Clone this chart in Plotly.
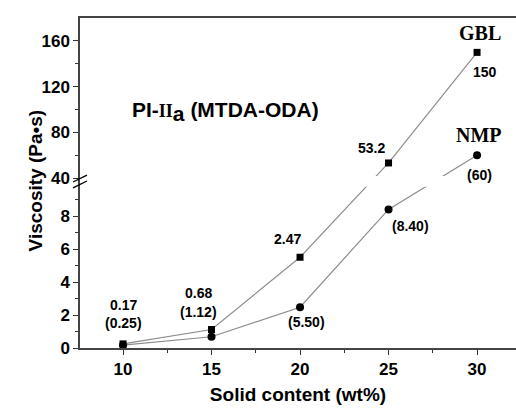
import plotly.graph_objects as go

# ---- data ----
solid = [10, 15, 20, 25, 30]
gbl = [0.25, 1.12, 5.50, 53.2, 150]
nmp = [0.17, 0.68, 2.47, 8.40, 60]
gbl_labels = ["0.17", "0.68", "2.47", "53.2", "150"]
nmp_labels = ["(0.25)", "(1.12)", "(5.50)", "(8.40)", "(60)"]
y_major = [0, 2, 4, 6, 8, 40, 80, 120, 160]
y_minor = [1, 3, 5, 7, 9, 60, 100, 140]
x_major = [10, 15, 20, 25, 30]

# ---- broken-axis scale ----
LOW_MAX = 10.0
HIGH_START = 40.0
HIGH_OFFSET = 10.30
HIGH_K = 0.06924


def brk(v):
    return v if v <= LOW_MAX else HIGH_OFFSET + (v - HIGH_START) * HIGH_K


gbl_t = [brk(v) for v in gbl]
nmp_t = [brk(v) for v in nmp]

FONT = "Arial, Liberation Sans, sans-serif"
SERIF = "Times New Roman, Liberation Serif, serif"

fig = go.Figure()
fig.add_trace(go.Scatter(x=solid, y=gbl_t, mode="lines+markers", name="GBL",
                         line=dict(color="#8c8c8c", width=1.2),
                         marker=dict(symbol="square", size=7, color="black"),
                         cliponaxis=False))
fig.add_trace(go.Scatter(x=solid, y=nmp_t, mode="lines+markers", name="NMP",
                         line=dict(color="#8c8c8c", width=1.2),
                         marker=dict(symbol="circle", size=8, color="black"),
                         cliponaxis=False))

ann = []
gbl_shift = [(0, 39), (-13, 37), (-13, 18), (-17, 15), (8, -20)]
nmp_shift = [(0, 22), (-13, 25), (6, -15), (22, -17), (2, -20)]
for x, y, lab, (dx, dy) in zip(solid, gbl_t, gbl_labels, gbl_shift):
    ann.append(dict(x=x, y=y, text=f"<b>{lab}</b>", showarrow=False, xshift=dx, yshift=dy,
                    font=dict(family=FONT, size=14, color="black")))
for x, y, lab, (dx, dy) in zip(solid, nmp_t, nmp_labels, nmp_shift):
    ann.append(dict(x=x, y=y, text=f"<b>{lab}</b>", showarrow=False, xshift=dx, yshift=dy,
                    font=dict(family=FONT, size=14, color="black")))
ann.append(dict(x=solid[-1], y=gbl_t[-1], text="<b>GBL</b>", showarrow=False, xshift=3, yshift=19,
                font=dict(family=SERIF, size=20, color="black")))
ann.append(dict(x=solid[-1], y=nmp_t[-1], text="<b>NMP</b>", showarrow=False, xshift=2, yshift=20,
                font=dict(family=SERIF, size=20, color="black")))
ann.append(dict(x=0.334, y=0.765, xref="paper", yref="paper",
                text="<b>PI-<span style='font-family:Times New Roman, Liberation Serif, serif;font-size:18px'>II</span>"
                     "<sub><span style='font-size:21px'>a</span></sub> (MTDA-ODA)</b>",
                showarrow=False, font=dict(family=FONT, size=21, color="black")))
ann.append(dict(x=-0.131, y=0.506, xref="paper", yref="paper", textangle=-90,
                text="<b>Viscosity (Pa•s)</b>", showarrow=False,
                font=dict(family=FONT, size=19, color="black")))

shapes = [
    # white band cutting lines at the break
    dict(type="rect", xref="paper", yref="y", x0=0.004, x1=1.0, y0=9.78, y1=10.42,
         fillcolor="white", line=dict(width=0), layer="above"),
    # break marks
    dict(type="line", xref="paper", yref="y", x0=-0.016, x1=0.016, y0=10.06, y1=10.48,
         line=dict(color="black", width=1.3), layer="above"),
    dict(type="line", xref="paper", yref="y", x0=-0.016, x1=0.016, y0=9.70, y1=10.12,
         line=dict(color="black", width=1.3), layer="above"),
]

fig.update_layout(
    width=516, height=408,
    margin=dict(l=80, r=0, t=18, b=60),
    paper_bgcolor="white", plot_bgcolor="white",
    showlegend=False,
    annotations=ann,
    shapes=shapes,
    font=dict(family=FONT, color="black"),
    xaxis=dict(range=[7.57, 32.2], tickmode="array", tickvals=x_major,
               ticktext=[f"<b>{v}</b>" for v in x_major],
               ticks="outside", ticklen=5, tickwidth=1.2, tickcolor="#333",
               showline=True, linecolor="#444", linewidth=1.5, mirror=True,
               showgrid=False, zeroline=False,
               tickfont=dict(family=FONT, size=17, color="black"),
               minor=dict(tickmode="array", tickvals=[12.5, 17.5, 22.5, 27.5],
                          ticks="outside", ticklen=3, tickcolor="#333", showgrid=False),
               title=dict(text="<b>Solid content (wt%)</b>", standoff=10,
                          font=dict(family=FONT, size=19, color="black"))),
    yaxis=dict(range=[0, 20.0], tickmode="array", tickvals=[brk(v) for v in y_major],
               ticktext=[f"<b>{v}</b>" for v in y_major],
               ticks="outside", ticklen=5, tickwidth=1.2, tickcolor="#333",
               showline=True, linecolor="#444", linewidth=1.5,
               showgrid=False, zeroline=False,
               tickfont=dict(family=FONT, size=17, color="black"),
               minor=dict(tickmode="array", tickvals=[brk(v) for v in y_minor],
                          ticks="outside", ticklen=3, tickcolor="#333", showgrid=False)),
)

fig.write_html("out.html")
